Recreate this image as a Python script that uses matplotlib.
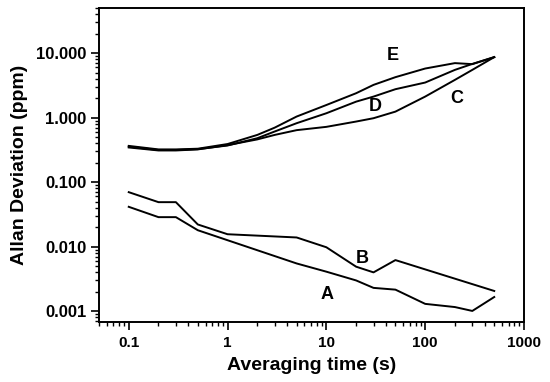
import numpy as np
import matplotlib
matplotlib.use("Agg")
import matplotlib.pyplot as plt
from matplotlib.ticker import FixedLocator, FixedFormatter, LogLocator, NullFormatter

plt.rcParams["font.family"] = ["Liberation Sans", "DejaVu Sans"]
plt.rcParams["font.weight"] = "bold"

# ── Data ─────────────────────────────────────────────────────────────────────
tau = [0.1, 0.2, 0.3, 0.5, 1, 2, 3, 5, 10, 20, 30, 50, 100, 200, 300, 500]

tau_a = [0.1, 0.2, 0.3, 0.5, 1, 5, 10, 20, 30, 50, 100, 200, 300, 500]
dev_a = [0.0415, 0.0287, 0.0287, 0.018, 0.0126, 0.0055, 0.0041, 0.0030,
         0.0023, 0.00216, 0.0013, 0.00116, 0.00101, 0.00166]

tau_b = [0.1, 0.2, 0.3, 0.5, 1, 5, 10, 20, 30, 50, 500]
dev_b = [0.070, 0.049, 0.049, 0.0221, 0.0156, 0.0139, 0.0098, 0.0049,
         0.0040, 0.0062, 0.00206]

dev_c = [0.345, 0.310, 0.310, 0.322, 0.375, 0.46, 0.54, 0.64, 0.72, 0.87,
         0.98, 1.24, 2.12, 3.85, 5.5, 8.67]
dev_d = [0.355, 0.315, 0.315, 0.325, 0.37, 0.48, 0.61, 0.82, 1.17, 1.77,
         2.12, 2.76, 3.5, 5.5, 6.8, 8.67]
dev_e = [0.365, 0.322, 0.322, 0.330, 0.39, 0.54, 0.70, 1.04, 1.57, 2.39,
         3.22, 4.24, 5.77, 7.0, 6.75, 8.67]

curve_labels = ["A", "B", "C", "D", "E"]
label_x = [10.2, 23.2, 207, 31.4, 46.6]
label_y = [0.00183, 0.00663, 1.95, 1.47, 9.08]

# ── Figure ───────────────────────────────────────────────────────────────────
fig = plt.figure(figsize=(5.5, 3.82), dpi=100)
ax = fig.add_axes([0.18, 0.157, 0.7727, 0.822])

lw = 1.4
ax.plot(tau_a, dev_a, color="black", lw=lw)
ax.plot(tau_b, dev_b, color="black", lw=lw)
ax.plot(tau, dev_c, color="black", lw=lw)
ax.plot(tau, dev_d, color="black", lw=lw)
ax.plot(tau, dev_e, color="black", lw=lw)

for lab, lx, ly in zip(curve_labels, label_x, label_y):
    ax.text(lx, ly, lab, ha="center", va="center", fontsize=13, fontweight="bold")

ax.set_xscale("log")
ax.set_yscale("log")
ax.set_xlim(0.05, 1000)
ax.set_ylim(0.00068, 50)

ax.xaxis.set_major_locator(FixedLocator([0.1, 1, 10, 100, 1000]))
ax.xaxis.set_major_formatter(FixedFormatter(["0.1", "1", "10", "100", "1000"]))
ax.xaxis.set_minor_locator(LogLocator(base=10, subs=np.arange(2, 10), numticks=20))
ax.xaxis.set_minor_formatter(NullFormatter())

ax.yaxis.set_major_locator(FixedLocator([0.001, 0.01, 0.1, 1, 10]))
ax.yaxis.set_major_formatter(FixedFormatter(["0.001", "0.010", "0.100", "1.000", "10.000"]))
ax.yaxis.set_minor_locator(LogLocator(base=10, subs=np.arange(2, 10), numticks=20))
ax.yaxis.set_minor_formatter(NullFormatter())

ax.tick_params(which="major", direction="out", length=6, width=1.2)
ax.tick_params(which="minor", direction="out", length=3, width=1.0)
ax.tick_params(axis="x", which="major", labelsize=11, pad=4)
ax.tick_params(axis="y", which="major", labelsize=12, pad=3)
for s in ax.spines.values():
    s.set_linewidth(1.4)

ax.set_xlabel("Averaging time (s)", fontsize=14, fontweight="bold", labelpad=5)
ax.set_ylabel("Allan Deviation (ppm)", fontsize=14, fontweight="bold", labelpad=6)

fig.savefig("out.png", dpi=100)
